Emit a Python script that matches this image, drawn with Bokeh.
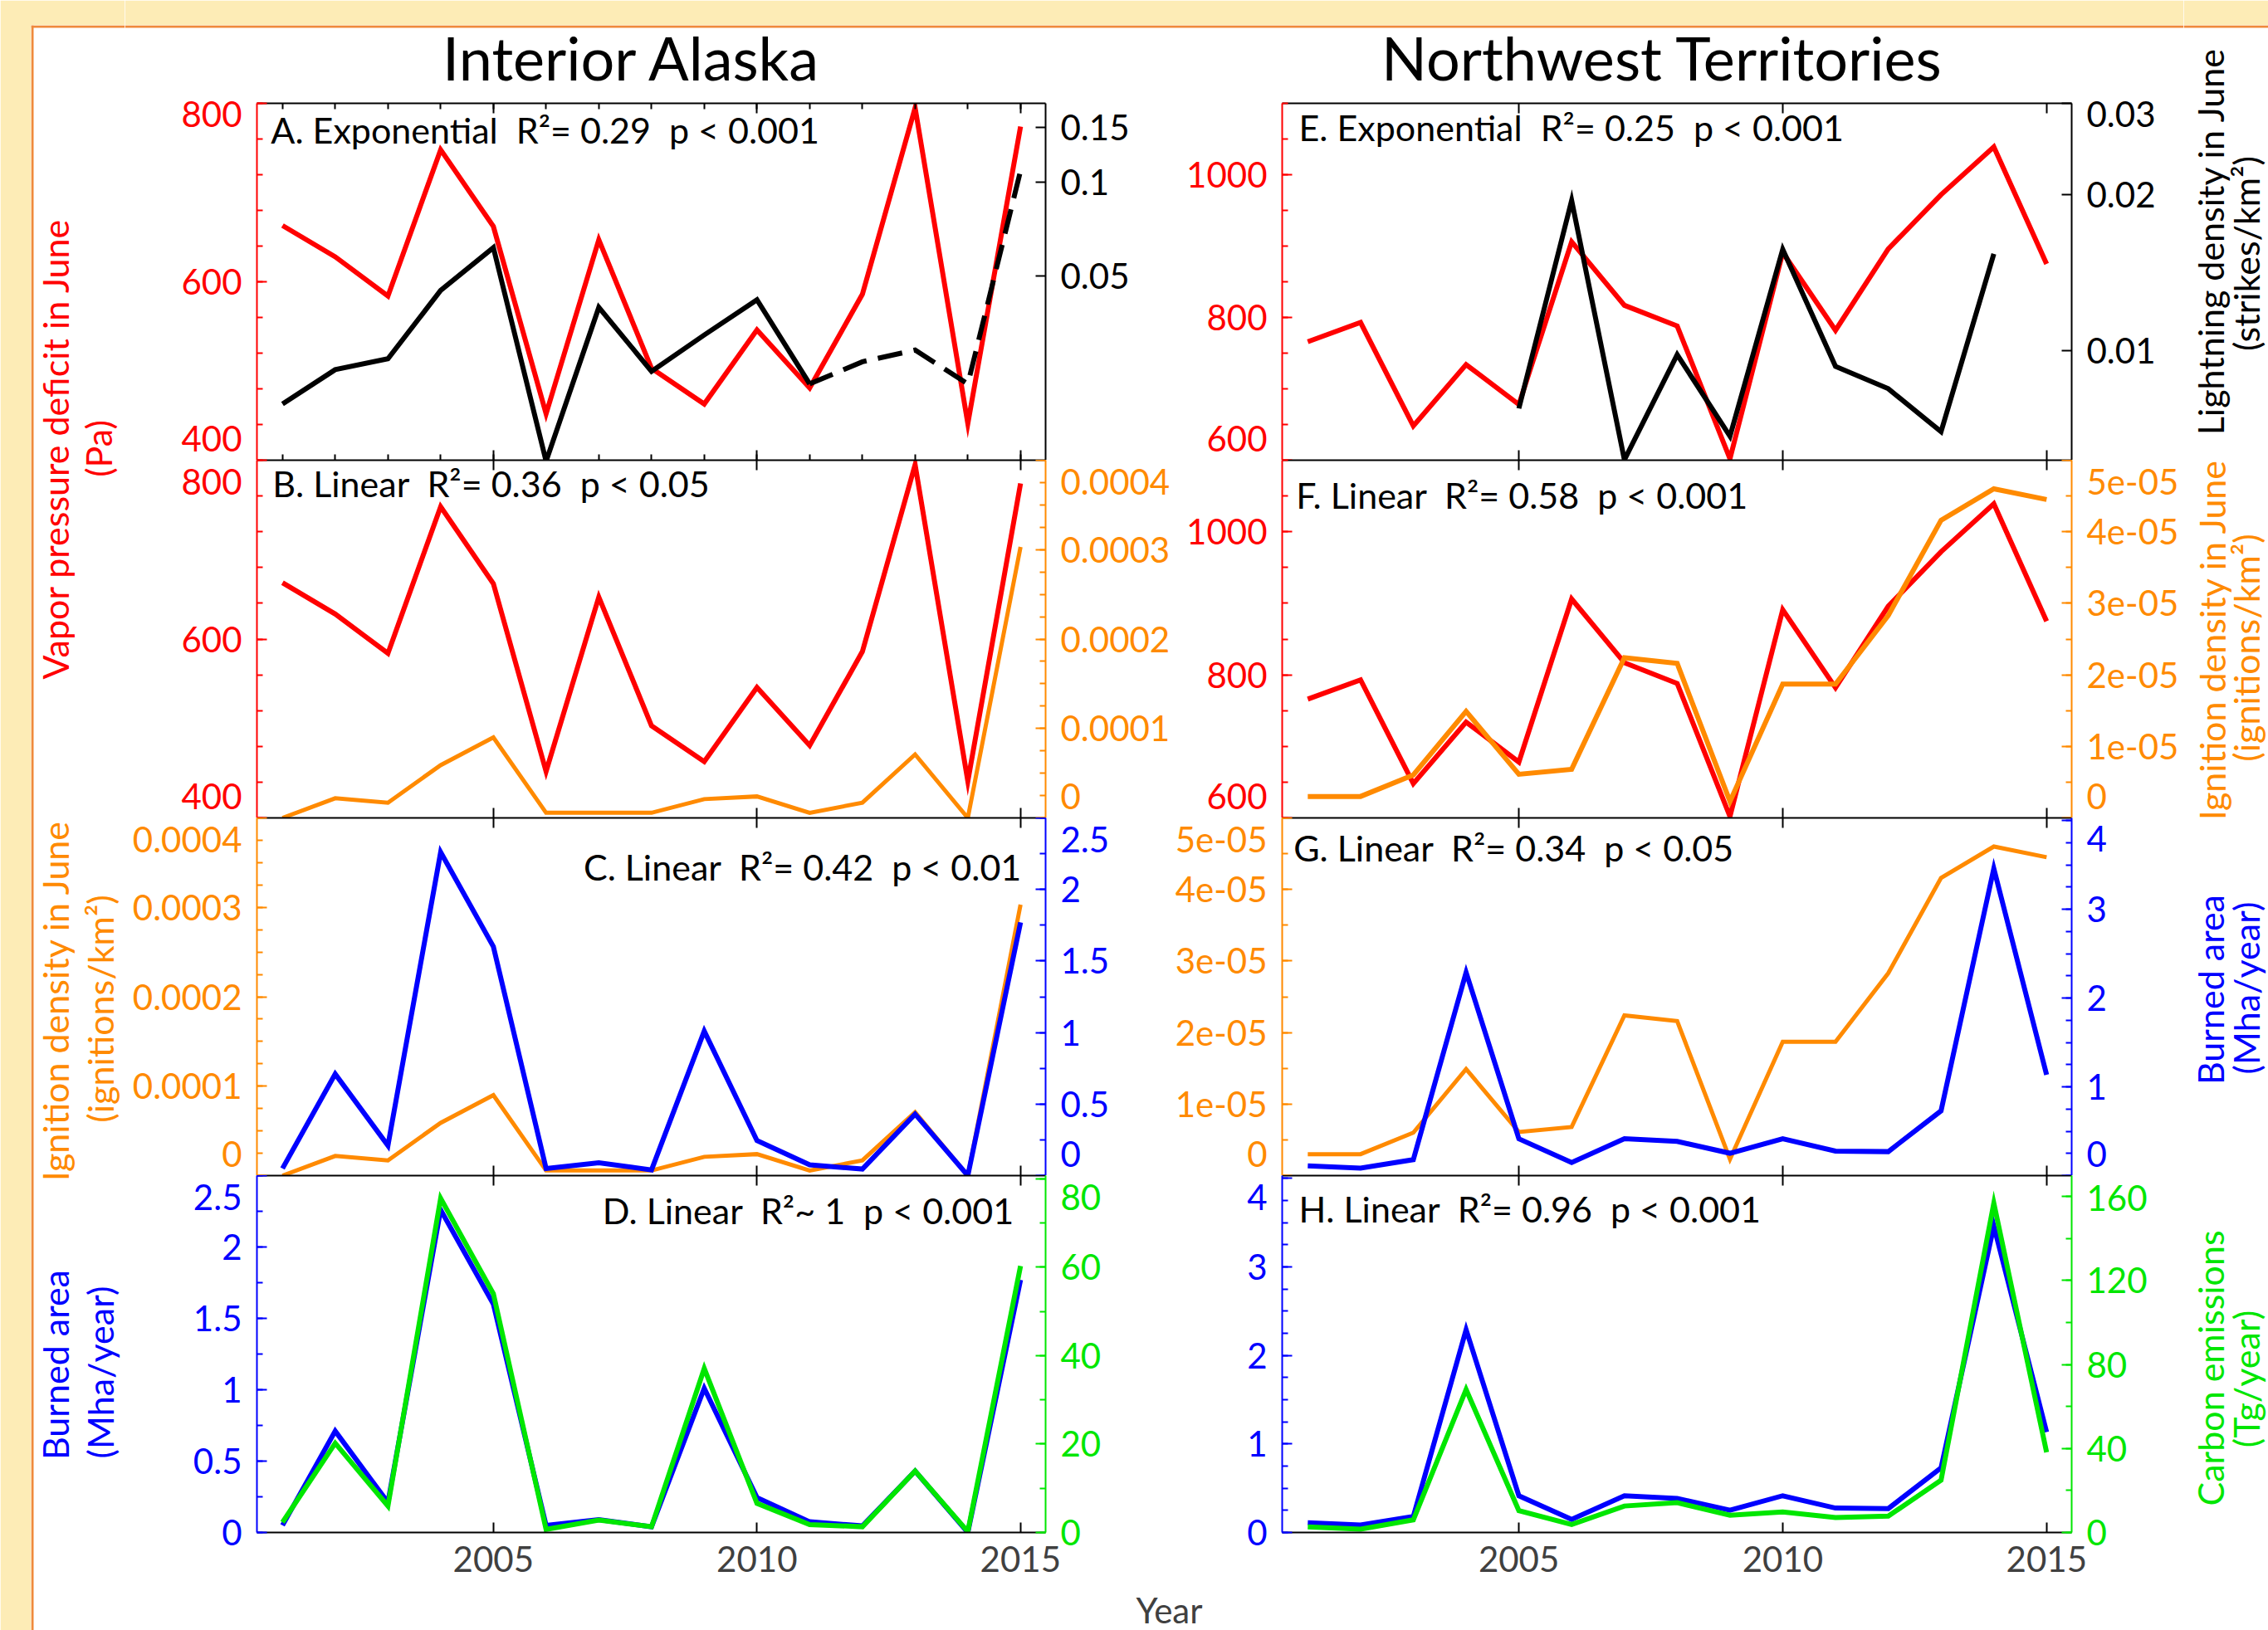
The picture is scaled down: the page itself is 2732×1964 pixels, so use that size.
import math
import numpy as np
from bokeh.plotting import figure
from bokeh.models import (Range1d, LinearAxis, LogAxis, FixedTicker, Label, Span,
                          ColumnDataSource, LogScale)
from bokeh.layouts import row, column
from bokeh.embed import file_html
from bokeh.resources import INLINE

NaN = float("nan")

# ---------------- data ----------------
years = list(range(2001, 2016))
year_ticks = [2005, 2010, 2015]

# Interior Alaska
ak_vpd = [663, 628, 584, 748, 662, 452, 647, 503, 463, 546, 481, 586, 795, 441, 774]
ak_lightning = [0.0194, 0.0250, 0.0271, 0.0449, 0.0616, 0.0127, 0.0396, 0.0247, 0.0323,
                0.0419, 0.0225, 0.0265, 0.0289, 0.0225, 0.1087]
ak_lightning_dashed_from = 2011
ak_ignition = [0.0, 0.000022, 0.000017, 0.000059, 0.000090, 0.0000057, 0.0000057, 0.0000057,
               0.000021, 0.000024, 0.0000057, 0.000017, 0.000071, 0.0, 0.000303]
ak_burned = [0.05, 0.71, 0.21, 2.26, 1.60, 0.05, 0.09, 0.04, 1.01, 0.245, 0.075, 0.046, 0.43, 0.0, 1.77]
ak_carbon = [2.3, 20.2, 6.0, 75.6, 54.0, 0.7, 2.8, 1.3, 37.1, 6.6, 1.8, 1.3, 13.9, 0.2, 60.3]

# Northwest Territories
nwt_vpd = [766, 793, 648, 734, 678, 906, 817, 788, 602, 891, 782, 896, 972, 1039, 875]
nwt_lightning = [NaN, NaN, NaN, NaN, 0.00775, 0.0195, 0.00617, 0.00984, 0.00685, 0.01569,
                 0.00934, 0.00846, 0.00699, 0.01538, NaN]
nwt_ignition = [3.0e-6, 3.0e-6, 6.0e-6, 1.49e-5, 6.1e-6, 6.8e-6, 2.24e-5, 2.16e-5, 2.3e-6,
                1.87e-5, 1.87e-5, 2.83e-5, 4.16e-5, 4.6e-5, 4.45e-5]
nwt_burned = [0.11, 0.085, 0.18, 2.29, 0.415, 0.147, 0.415, 0.385, 0.252, 0.415, 0.276, 0.27, 0.73, 3.46, 1.135]
nwt_carbon = [2.7, 1.6, 6.0, 68.1, 10.4, 3.8, 12.6, 14.2, 8.2, 9.8, 7.1, 7.8, 24.9, 156.9, 38.2]

# axis ticks / tick labels
ak_vpd_ticks = [400, 600, 800]
ak_vpd_labels = ["400", "600", "800"]
ak_lt_ticks = [0.05, 0.1, 0.15]
ak_lt_labels = ["0.05", "0.1", "0.15"]
ak_ign_ticks = [0, 0.0001, 0.0002, 0.0003, 0.0004]
ak_ign_labels = ["0", "0.0001", "0.0002", "0.0003", "0.0004"]
ak_ba_ticks = [0, 0.5, 1, 1.5, 2, 2.5]
ak_ba_labels = ["0", "0.5", "1", "1.5", "2", "2.5"]
ak_c_ticks = [0, 20, 40, 60, 80]
ak_c_labels = ["0", "20", "40", "60", "80"]
nwt_vpd_ticks = [600, 800, 1000]
nwt_vpd_labels = ["600", "800", "1000"]
nwt_lt_ticks = [0.01, 0.02, 0.03]
nwt_lt_labels = ["0.01", "0.02", "0.03"]
nwt_ign_ticks = [0, 1e-05, 2e-05, 3e-05, 4e-05, 5e-05]
nwt_ign_labels = ["0", "1e-05", "2e-05", "3e-05", "4e-05", "5e-05"]
nwt_ba_ticks = [0, 1, 2, 3, 4]
nwt_ba_labels = ["0", "1", "2", "3", "4"]
nwt_c_ticks = [0, 40, 80, 120, 160]
nwt_c_labels = ["0", "40", "80", "120", "160"]

# ---------------- styles ----------------
FONT = "Lato"
RED = "#ff0000"
BLACK = "#000000"
ORANGE = "#ff8a00"
BLUE = "#0000ff"
GREEN = "#00e600"
GREY = "#404040"
BG_YELLOW = "#fdecb6"
BORDER_ORANGE = "#ef8a3c"
NB = "\u00a0"
TICK_FS = "42px"
LABEL_FS = "43px"
NOTE_FS = "43px"
STANDOFF = 18

X_RANGE = (2000.515, 2015.475)

COLS = {"L": dict(width=1262, mbl=159, mbr=149),
        "R": dict(width=1218, mbl=127, mbr=135)}
ROWS = [dict(height=442, mbt=12, mbb=0, fh=430),
        dict(height=431, mbt=0, mbb=0, fh=431),
        dict(height=431, mbt=0, mbb=0, fh=431),
        dict(height=496, mbt=0, mbb=66, fh=430)]


def arr(v):
    return np.array(v, dtype=float)


src = ColumnDataSource(dict(
    year=arr(years),
    ak_vpd=arr(ak_vpd),
    ak_lt_solid=arr([v if y <= ak_lightning_dashed_from else NaN for y, v in zip(years, ak_lightning)]),
    ak_lt_dash=arr([v if y >= ak_lightning_dashed_from else NaN for y, v in zip(years, ak_lightning)]),
    ak_ign=arr(ak_ignition),
    ak_ba=arr(ak_burned),
    ak_c=arr(ak_carbon),
    nwt_vpd=arr(nwt_vpd),
    nwt_lt=arr(nwt_lightning),
    nwt_ign=arr(nwt_ignition),
    nwt_ba=arr(nwt_burned),
    nwt_c=arr(nwt_carbon),
))


def spec(rng, ticks, labels, color, minor=(), log=False, shift_top=0, shift_bottom=0):
    """shift_top / shift_bottom: pixels by which the label of the highest / lowest tick
    is moved into the panel, so that it is not cut by the panel edge."""
    return dict(range=rng, ticks=list(ticks), labels=list(labels), color=color,
                minor=list(minor), log=log, shift_top=shift_top, shift_bottom=shift_bottom)


def label_positions(s, fh):
    lo, hi = s["range"]
    pos = [float(t) for t in s["ticks"]]
    if s["log"]:
        k = (math.log(hi) - math.log(lo)) / fh
        if s["shift_top"]:
            pos[-1] = math.exp(math.log(pos[-1]) - s["shift_top"] * k)
        if s["shift_bottom"]:
            pos[0] = math.exp(math.log(pos[0]) + s["shift_bottom"] * k)
    else:
        k = (hi - lo) / fh
        if s["shift_top"]:
            pos[-1] = pos[-1] - s["shift_top"] * k
        if s["shift_bottom"]:
            pos[0] = pos[0] + s["shift_bottom"] * k
    return pos


def add_y_axes(p, s, side, fh, rng_name=None):
    Ax = LogAxis if s["log"] else LinearAxis
    kw = {} if rng_name is None else {"y_range_name": rng_name}
    c = s["color"]
    # 1) axis line + ticks (no labels, zero extent)
    a1 = Ax(ticker=FixedTicker(ticks=s["ticks"], minor_ticks=s["minor"]), **kw)
    a1.axis_line_color = c
    a1.axis_line_width = 2
    a1.major_tick_in = 12
    a1.major_tick_out = 0
    a1.major_tick_line_color = c
    a1.major_tick_line_width = 2
    a1.minor_tick_in = 7
    a1.minor_tick_out = 0
    a1.minor_tick_line_color = c
    a1.minor_tick_line_width = 2
    a1.major_label_text_font_size = "0px"
    a1.major_label_text_color = None
    a1.major_label_standoff = 0
    p.add_layout(a1, side)
    # 2) tick labels (edge labels nudged inwards)
    pos = label_positions(s, fh)
    a2 = Ax(ticker=FixedTicker(ticks=pos, minor_ticks=[]), **kw)
    a2.axis_line_color = None
    a2.major_tick_line_color = None
    a2.minor_tick_line_color = None
    a2.major_tick_in = 0
    a2.major_tick_out = 0
    a2.minor_tick_in = 0
    a2.minor_tick_out = 0
    a2.major_label_text_font = FONT
    a2.major_label_text_font_size = TICK_FS
    a2.major_label_text_color = c
    a2.major_label_standoff = STANDOFF
    a2.major_label_overrides = {t: l for t, l in zip(pos, s["labels"])}
    p.add_layout(a2, side)


def make_panel(colkey, r, left, right, lines, note, note_x, note_dy, note_align="left",
               show_years=False, minor_years=False):
    c = COLS[colkey]
    rr = ROWS[r]
    ylo, yhi = left["range"]
    p = figure(width=c["width"], height=rr["height"],
               x_range=Range1d(*X_RANGE), y_range=Range1d(ylo, yhi),
               x_axis_location=None, y_axis_location=None,
               toolbar_location=None, output_backend="svg",
               min_border_left=c["mbl"], min_border_right=c["mbr"],
               min_border_top=rr["mbt"], min_border_bottom=rr["mbb"],
               background_fill_color="white", border_fill_color="white",
               outline_line_color=None)
    p.grid.visible = False

    p.extra_y_ranges = {"r": Range1d(*right["range"])}
    if right["log"]:
        p.extra_y_scales = {"r": LogScale()}

    add_y_axes(p, left, "left", rr["fh"])
    add_y_axes(p, right, "right", rr["fh"], "r")

    # x axes (top & bottom of every panel)
    for loc in ("above", "below"):
        ax = LinearAxis(ticker=FixedTicker(ticks=year_ticks, minor_ticks=years if minor_years else []))
        ax.axis_line_color = BLACK
        ax.axis_line_width = 2
        ax.major_tick_in = 12
        ax.major_tick_out = 0
        ax.major_tick_line_color = BLACK
        ax.major_tick_line_width = 2
        ax.minor_tick_in = 7
        ax.minor_tick_out = 0
        ax.minor_tick_line_color = BLACK if minor_years else None
        ax.minor_tick_line_width = 2
        if loc == "below" and show_years:
            ax.major_label_text_font = FONT
            ax.major_label_text_font_size = TICK_FS
            ax.major_label_text_color = GREY
            ax.major_label_standoff = 16
        else:
            ax.major_label_text_font_size = "0px"
            ax.major_label_text_color = None
            ax.major_label_standoff = 0
        p.add_layout(ax, loc)

    for key, color, lw, dash, rng in lines:
        kw = dict(x="year", y=key, source=src, line_color=color, line_width=lw, line_join="miter")
        if dash:
            kw["line_dash"] = dash
        if rng != "default":
            kw["y_range_name"] = rng
        p.line(**kw)

    # note text: note_dy = pixel distance of its baseline below the panel top
    ny = yhi - (note_dy - 16) * (yhi - ylo) / rr["fh"]
    p.add_layout(Label(x=note_x, y=ny, text=note, text_font=FONT, text_font_size=NOTE_FS,
                       text_color=BLACK, text_align=note_align, text_baseline="middle"))
    return p


def note(letter, kind, r2, pv, approx=False):
    eq = "~" if approx else "="
    return f"{letter}. {kind}{NB}{NB}R\u00b2{eq} {r2}{NB}{NB}p < {pv}"


# ---------------- Interior Alaska panels ----------------
vpd_minor = list(range(400, 801, 40))
ign_minor = [round(i * 0.000025, 9) for i in range(17)]
ba_minor = [i * 0.25 for i in range(11)]

pA = make_panel("L", 0,
                spec((400, 800), ak_vpd_ticks, ak_vpd_labels, RED, vpd_minor, shift_top=13, shift_bottom=26),
                spec((0.0128, 0.179), ak_lt_ticks, ak_lt_labels, BLACK, log=True),
                [("ak_vpd", RED, 6, None, "default"),
                 ("ak_lt_solid", BLACK, 6, None, "r"),
                 ("ak_lt_dash", BLACK, 6, "30 14", "r")],
                note("A", "Exponential", "0.29", "0.001"), 2000.78, 48, minor_years=True)
pB = make_panel("L", 1,
                spec((400, 800), ak_vpd_ticks, ak_vpd_labels, RED, vpd_minor, shift_top=26, shift_bottom=26),
                spec((0, 0.0004), ak_ign_ticks, ak_ign_labels, ORANGE, ign_minor, shift_top=26, shift_bottom=26),
                [("ak_vpd", RED, 6, None, "default"),
                 ("ak_ign", ORANGE, 5, None, "r")],
                note("B", "Linear", "0.36", "0.05"), 2000.81, 44)
pC = make_panel("L", 2,
                spec((0, 0.0004), ak_ign_ticks, ak_ign_labels, ORANGE, ign_minor, shift_top=26, shift_bottom=26),
                spec((0, 2.5), ak_ba_ticks, ak_ba_labels, BLUE, ba_minor, shift_top=26, shift_bottom=26),
                [("ak_ign", ORANGE, 5, None, "default"),
                 ("ak_ba", BLUE, 6, None, "r")],
                note("C", "Linear", "0.42", "0.01"), 2015.015, 75, note_align="right")
pD = make_panel("L", 3,
                spec((0, 2.5), ak_ba_ticks, ak_ba_labels, BLUE, ba_minor, shift_top=26),
                spec((0, 80.75), ak_c_ticks, ak_c_labels, GREEN, list(range(0, 81, 10)), shift_top=22),
                [("ak_ba", BLUE, 6, None, "default"),
                 ("ak_c", GREEN, 6, None, "r")],
                note("D", "Linear", "1", "0.001", approx=True), 2014.87, 58, note_align="right",
                show_years=True)

# ---------------- Northwest Territories panels ----------------
nvpd_minor = list(range(600, 1101, 50))
nign_minor = [round(i * 5e-6, 10) for i in range(11)]
nba_minor = [i * 0.25 for i in range(17)]

pE = make_panel("R", 0,
                spec((600, 1100), nwt_vpd_ticks, nwt_vpd_labels, RED, nvpd_minor, shift_bottom=26),
                spec((0.00616, 0.03), nwt_lt_ticks, nwt_lt_labels, BLACK, log=True, shift_top=13),
                [("nwt_vpd", RED, 6, None, "default"),
                 ("nwt_lt", BLACK, 6, None, "r")],
                note("E", "Exponential", "0.25", "0.001"), 2000.83, 45)
pF = make_panel("R", 1,
                spec((600, 1100), nwt_vpd_ticks, nwt_vpd_labels, RED, nvpd_minor, shift_bottom=26),
                spec((0, 5e-05), nwt_ign_ticks, nwt_ign_labels, ORANGE, nign_minor, shift_top=26, shift_bottom=26),
                [("nwt_vpd", RED, 6, None, "default"),
                 ("nwt_ign", ORANGE, 6, None, "r")],
                note("F", "Linear", "0.58", "0.001"), 2000.78, 58)
pG = make_panel("R", 2,
                spec((0, 5e-05), nwt_ign_ticks, nwt_ign_labels, ORANGE, nign_minor, shift_top=26, shift_bottom=26),
                spec((0, 4.03), nwt_ba_ticks, nwt_ba_labels, BLUE, nba_minor, shift_top=22, shift_bottom=26),
                [("nwt_ign", ORANGE, 5, None, "default"),
                 ("nwt_ba", BLUE, 6, None, "r")],
                note("G", "Linear", "0.34", "0.05"), 2000.73, 52)
pH = make_panel("R", 3,
                spec((0, 4.03), nwt_ba_ticks, nwt_ba_labels, BLUE, nba_minor, shift_top=23),
                spec((0, 170), nwt_c_ticks, nwt_c_labels, GREEN, list(range(0, 171, 20)), shift_top=2),
                [("nwt_ba", BLUE, 6, None, "default"),
                 ("nwt_c", GREEN, 6, None, "r")],
                note("H", "Linear", "0.96", "0.001"), 2000.83, 56, show_years=True)


# ---------------- frame strips (titles, axis titles, page border) ----------------
def strip(width, height, xr, yr, mbl=0, mbt=0, fill=BG_YELLOW):
    s = figure(width=width, height=height, x_range=Range1d(*xr), y_range=Range1d(*yr),
               x_axis_location=None, y_axis_location=None, toolbar_location=None,
               output_backend="svg", min_border_left=mbl, min_border_top=mbt,
               min_border_right=0, min_border_bottom=0,
               border_fill_color=fill, background_fill_color="white", outline_line_color=None)
    s.grid.visible = False
    return s


def vlabel(p, x, y, text, color):
    p.add_layout(Label(x=x, y=y, text=text, angle=math.pi / 2, text_font=FONT,
                       text_font_size=LABEL_FS, text_color=color,
                       text_align="center", text_baseline="middle"))


left = strip(150, 1964, (37, 150), (1964, 30), mbl=37, mbt=30)
left.add_layout(Span(location=38.5, dimension="height", line_color=BORDER_ORANGE, line_width=3))
left.add_layout(Span(location=31.5, dimension="width", line_color=BORDER_ORANGE, line_width=3))
vlabel(left, 66, 540, "Vapor pressure deficit in June", RED)
vlabel(left, 118, 540, "(Pa)", RED)
vlabel(left, 66, 1205, "Ignition density in June", ORANGE)
vlabel(left, 120, 1215, "(ignitions/km\u00b2)", ORANGE)
vlabel(left, 66, 1644, "Burned area", BLUE)
vlabel(left, 120, 1653, "(Mha/year)", BLUE)

right = strip(102, 1964, (2630, 2732), (1964, 30), mbt=30)
right.add_layout(Span(location=31.5, dimension="width", line_color=BORDER_ORANGE, line_width=3))
vlabel(right, 2662, 290, "Lightning density in June", BLACK)
vlabel(right, 2705, 305, "(strikes/km\u00b2)", BLACK)
vlabel(right, 2664, 770, "Ignition density in June", ORANGE)
vlabel(right, 2705, 780, "(ignitions/km\u00b2)", ORANGE)
vlabel(right, 2662, 1192, "Burned area", BLUE)
vlabel(right, 2705, 1190, "(Mha/year)", BLUE)
vlabel(right, 2662, 1648, "Carbon emissions", GREEN)
vlabel(right, 2705, 1661, "(Tg/year)", GREEN)

top = strip(2480, 112, (150, 2630), (112, 30), mbt=30)
top.add_layout(Span(location=31.5, dimension="width", line_color=BORDER_ORANGE, line_width=3))
for tx, tt in ((761, "Interior Alaska"), (2002, "Northwest Territories")):
    top.add_layout(Label(x=tx, y=68, text=tt, text_font=FONT, text_font_size="72px",
                         text_color=BLACK, text_align="center", text_baseline="middle"))

bottom = strip(2480, 52, (150, 2630), (1964, 1912), fill="white")
bottom.add_layout(Label(x=1408, y=1939, text="Year", text_font=FONT, text_font_size="42px",
                        text_color=GREY, text_align="center", text_baseline="middle"))

grid = row(column(pA, pB, pC, pD), column(pE, pF, pG, pH))
middle = column(top, grid, bottom)
root = row(left, middle, right)

open("out.html", "w").write(file_html(root, INLINE))
